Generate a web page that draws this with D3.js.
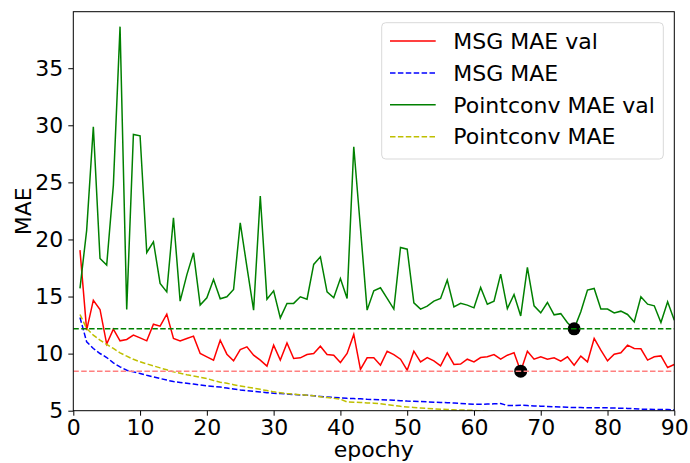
<!DOCTYPE html>
<html>
<head>
<meta charset="utf-8">
<script src="https://cdn.jsdelivr.net/npm/d3@7"></script>
<style>
  body { margin: 0; background: #fff; }
  svg { display: block; font-family: "DejaVu Sans", sans-serif; }
</style>
</head>
<body>
<div id="chart"></div>
<script>
// ---- data (epochs 1..90) ----
const epochs = d3.range(1, 91);

const msgVal = [
  19.07, 12.06, 14.68, 13.87, 10.83, 12.14, 11.12, 11.24, 11.62, 11.38,
  11.12, 12.58, 12.40, 13.46, 11.33, 11.12, 11.33, 11.53, 10.01, 9.72,
  9.43, 11.18, 9.95, 9.37, 10.36, 10.59, 9.86, 9.43, 8.90, 10.74,
  9.43, 10.94, 9.57, 9.63, 9.92, 10.01, 10.65, 9.92, 9.86, 9.22,
  10.01, 11.68, 8.61, 9.63, 9.63, 8.99, 10.21, 9.92, 9.51, 8.55,
  10.21, 9.28, 9.66, 9.37, 8.93, 10.07, 9.05, 9.08, 9.51, 9.28,
  9.66, 9.72, 9.92, 9.51, 9.86, 10.07, 8.46, 10.21, 9.51, 9.72,
  9.51, 9.63, 9.34, 9.72, 8.99, 9.78, 9.28, 11.33, 10.30, 9.37,
  9.95, 10.07, 10.74, 10.45, 10.42, 9.43, 9.72, 9.80, 8.78, 9.05
];

const msgTrain = [
  13.17, 11.03, 10.45, 10.01, 9.66, 9.19, 8.84, 8.55, 8.40, 8.26,
  8.10, 7.96, 7.82, 7.68, 7.55, 7.48, 7.41, 7.33, 7.26, 7.17,
  7.12, 7.07, 6.98, 6.90, 6.82, 6.76, 6.70, 6.64, 6.58, 6.52,
  6.50, 6.46, 6.42, 6.38, 6.36, 6.30, 6.25, 6.20, 6.16, 6.12,
  6.08, 6.06, 6.04, 6.00, 5.98, 5.96, 5.94, 5.92, 5.88, 5.84,
  5.82, 5.80, 5.77, 5.74, 5.72, 5.70, 5.67, 5.64, 5.60, 5.57,
  5.57, 5.58, 5.60, 5.63, 5.45, 5.45, 5.48, 5.45, 5.42, 5.40,
  5.37, 5.34, 5.32, 5.30, 5.28, 5.27, 5.26, 5.26, 5.25, 5.25,
  5.23, 5.22, 5.20, 5.18, 5.13, 5.12, 5.11, 5.10, 5.10, 5.08
];

const pcVal = [
  15.71, 20.80, 29.87, 18.34, 17.75, 24.76, 38.64, 13.87, 29.20, 29.08,
  18.86, 19.80, 16.15, 15.41, 21.90, 14.60, 16.90, 18.83, 14.25, 14.89,
  16.50, 14.80, 14.98, 15.62, 21.46, 17.60, 13.81, 23.80, 14.77, 15.50,
  13.13, 14.40, 14.40, 14.98, 14.77, 17.81, 18.48, 15.41, 14.89, 16.58,
  14.83, 28.12, 21.00, 13.81, 15.50, 15.77, 14.83, 13.90, 19.30, 19.15,
  14.45, 13.90, 14.16, 14.60, 14.83, 16.44, 14.10, 14.40, 14.25, 14.01,
  15.80, 14.33, 14.60, 16.96, 13.95, 15.18, 13.30, 17.55, 14.19, 13.57,
  14.48, 13.40, 13.50, 12.70, 12.17, 13.66, 15.56, 15.71, 13.90, 13.90,
  13.57, 13.72, 13.43, 12.78, 14.98, 14.33, 14.19, 12.73, 14.54, 12.93
];

const pcTrain = [
  13.43, 12.20, 11.62, 11.18, 10.80, 10.45, 10.07, 9.78, 9.50, 9.28,
  9.10, 8.93, 8.75, 8.58, 8.40, 8.28, 8.15, 8.04, 7.93, 7.82,
  7.65, 7.50, 7.40, 7.28, 7.17, 7.07, 6.97, 6.87, 6.76, 6.65,
  6.58, 6.50, 6.44, 6.40, 6.36, 6.30, 6.22, 6.15, 6.08, 6.01,
  5.77, 5.75, 5.72, 5.68, 5.66, 5.60, 5.53, 5.45, 5.38, 5.33,
  5.28, 5.24, 5.20, 5.16, 5.13, 5.10, 5.08, 5.06, 5.05, 5.03,
  4.98, 4.95, 4.92, 4.90, 4.87, 4.85, 4.82, 4.80, 4.78, 4.76,
  4.74, 4.72, 4.70, 4.68, 4.66, 4.64, 4.62, 4.60, 4.58, 4.56,
  4.55, 4.54, 4.52, 4.51, 4.50, 4.49, 4.48, 4.47, 4.46, 4.45
];

const xTicks = [0, 10, 20, 30, 40, 50, 60, 70, 80, 90];
const yTicks = [5, 10, 15, 20, 25, 30, 35];

const seriesNames = ["MSG MAE val", "MSG MAE", "Pointconv MAE val", "Pointconv MAE"];

// ---- canvas ----
const width = 690, height = 463;
const margin = { top: 11.7, right: 15.7, bottom: 52.3, left: 73.3 };
const plotW = width - margin.left - margin.right;
const plotH = height - margin.top - margin.bottom;
const fontSize = "22px";

const svg = d3.select("#chart").append("svg")
  .attr("width", width)
  .attr("height", height);

const g = svg.append("g")
  .attr("transform", `translate(${margin.left},${margin.top})`);

const x = d3.scaleLinear().domain([0, 90]).range([0, plotW]);
const y = d3.scaleLinear().domain([5, 39.95]).range([plotH, 0]);

g.append("clipPath").attr("id", "plot-clip")
  .append("rect").attr("width", plotW).attr("height", plotH);

const series = [
  { name: seriesNames[0], values: msgVal,   color: "#ff0000", dash: null },
  { name: seriesNames[1], values: msgTrain, color: "#0000ff", dash: "5.5,2.4" },
  { name: seriesNames[2], values: pcVal,    color: "#008000", dash: null },
  { name: seriesNames[3], values: pcTrain,  color: "#bfbf00", dash: "5.5,2.4" }
];

const line = d3.line()
  .x((d, i) => x(epochs[i]))
  .y(d => y(d));

const plot = g.append("g").attr("clip-path", "url(#plot-clip)");

series.forEach(s => {
  plot.append("path")
    .datum(s.values)
    .attr("fill", "none")
    .attr("stroke", s.color)
    .attr("stroke-width", 1.5)
    .attr("stroke-dasharray", s.dash)
    .attr("d", line);
});

// best (minimum) validation points
const bestMsg = d3.minIndex(msgVal);
const bestPc = d3.minIndex(pcVal);

plot.selectAll("circle.best")
  .data([[epochs[bestMsg], msgVal[bestMsg]], [epochs[bestPc], pcVal[bestPc]]])
  .join("circle")
  .attr("class", "best")
  .attr("cx", d => x(d[0]))
  .attr("cy", d => y(d[1]))
  .attr("r", 6.5)
  .attr("fill", "#000");

// horizontal reference lines at the minima
plot.append("line")
  .attr("x1", 0).attr("x2", plotW)
  .attr("y1", y(msgVal[bestMsg])).attr("y2", y(msgVal[bestMsg]))
  .attr("stroke", "#ff8080").attr("stroke-width", 1.5)
  .attr("stroke-dasharray", "5.5,2.4");

plot.append("line")
  .attr("x1", 0).attr("x2", plotW)
  .attr("y1", y(pcVal[bestPc])).attr("y2", y(pcVal[bestPc]))
  .attr("stroke", "#008000").attr("stroke-width", 1.5)
  .attr("stroke-dasharray", "5.5,2.4");

// ---- axes ----
const xAxis = g.append("g")
  .attr("transform", `translate(0,${plotH})`)
  .call(d3.axisBottom(x).tickValues(xTicks).tickSize(5).tickPadding(4).tickFormat(d3.format("d")));

const yAxis = g.append("g")
  .call(d3.axisLeft(y).tickValues(yTicks).tickSize(5).tickPadding(5).tickFormat(d3.format("d")));

[xAxis, yAxis].forEach(a => {
  a.select(".domain").remove();
  a.selectAll("line").attr("stroke", "#000").attr("stroke-width", 1);
  a.selectAll("text")
    .attr("fill", "#000")
    .style("font-size", fontSize)
    .style("font-family", "DejaVu Sans");
});

// frame
g.append("rect")
  .attr("width", plotW).attr("height", plotH)
  .attr("fill", "none")
  .attr("stroke", "#000")
  .attr("stroke-width", 1);

// axis labels
svg.append("text")
  .attr("x", margin.left + plotW / 2)
  .attr("y", 457)
  .attr("text-anchor", "middle")
  .style("font-size", fontSize)
  .text("epochy");

svg.append("text")
  .attr("transform", `translate(31,${margin.top + plotH / 2}) rotate(-90)`)
  .attr("text-anchor", "middle")
  .style("font-size", fontSize)
  .text("MAE");

// ---- legend ----
const legend = svg.append("g").attr("transform", "translate(381.7,22.7)");

legend.append("rect")
  .attr("width", 281.6).attr("height", 136.3)
  .attr("rx", 4)
  .attr("fill", "#fff").attr("fill-opacity", 0.8)
  .attr("stroke", "#d9d9d9").attr("stroke-width", 1);

const rows = legend.selectAll("g.row")
  .data(series)
  .join("g")
  .attr("class", "row")
  .attr("transform", (d, i) => `translate(0,${18.3 + i * 31.9})`);

rows.append("line")
  .attr("x1", 8.3).attr("x2", 54)
  .attr("stroke", d => d.color)
  .attr("stroke-width", 1.5)
  .attr("stroke-dasharray", d => d.dash);

rows.append("text")
  .attr("x", 71.6)
  .attr("dy", "0.35em")
  .style("font-size", fontSize)
  .text(d => d.name);
</script>
</body>
</html>
